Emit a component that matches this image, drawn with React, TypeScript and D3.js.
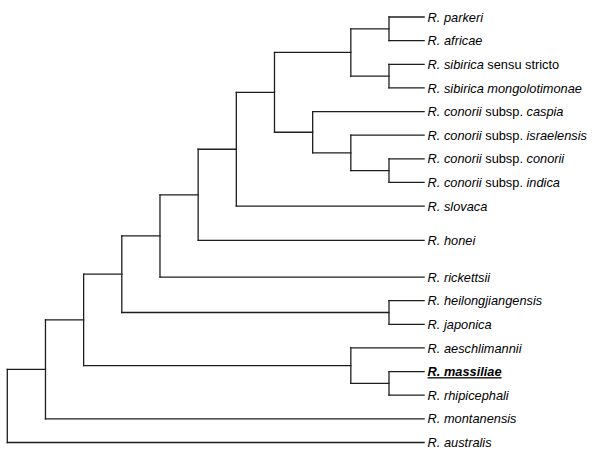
import React from "react";
import * as d3 from "d3";

// Leaves (top to bottom): id, label segments [text, style] (i = italic, n = normal, bi = bold italic underlined)
const leafIds = [
  "parkeri", "africae", "sibirica", "mongolotimonae", "caspia", "israelensis",
  "conorii", "indica", "slovaca", "honei", "rickettsii", "heilongjiangensis",
  "japonica", "aeschlimannii", "massiliae", "rhipicephali", "montanensis", "australis",
];
const leafLabels: [string, string][][] = [
  [["R. parkeri", "i"]],
  [["R. africae", "i"]],
  [["R. sibirica", "i"], [" sensu stricto", "n"]],
  [["R. sibirica mongolotimonae", "i"]],
  [["R. conorii", "i"], [" subsp. ", "n"], ["caspia", "i"]],
  [["R. conorii", "i"], [" subsp. ", "n"], ["israelensis", "i"]],
  [["R. conorii", "i"], [" subsp. ", "n"], ["conorii", "i"]],
  [["R. conorii", "i"], [" subsp. ", "n"], ["indica", "i"]],
  [["R. slovaca", "i"]],
  [["R. honei", "i"]],
  [["R. rickettsii", "i"]],
  [["R. heilongjiangensis", "i"]],
  [["R. japonica", "i"]],
  [["R. aeschlimannii", "i"]],
  [["R. massiliae", "bi"]],
  [["R. rhipicephali", "i"]],
  [["R. montanensis", "i"]],
  [["R. australis", "i"]],
];
// Vertical row slot of each leaf
const leafRows = [0, 1, 2, 3, 4, 5, 6, 7, 8, 9.45, 11, 12, 13, 14, 15, 16, 17, 18];
const leafDepth = 10.92;

// Internal clades: id, depth (node level), children
const clades: [string, number, string[]][] = [
  ["PA", 10, ["parkeri", "africae"]],
  ["SM", 10, ["sibirica", "mongolotimonae"]],
  ["PASM", 9, ["PA", "SM"]],
  ["CI", 10, ["conorii", "indica"]],
  ["ICI", 9, ["israelensis", "CI"]],
  ["CON", 8, ["caspia", "ICI"]],
  ["SFG", 7, ["PASM", "CON"]],
  ["SLO", 6, ["SFG", "slovaca"]],
  ["HON", 5, ["SLO", "honei"]],
  ["RIC", 4, ["HON", "rickettsii"]],
  ["HJ", 10, ["heilongjiangensis", "japonica"]],
  ["RHJ", 3, ["RIC", "HJ"]],
  ["MR", 10, ["massiliae", "rhipicephali"]],
  ["AMR", 9, ["aeschlimannii", "MR"]],
  ["G2", 2, ["RHJ", "AMR"]],
  ["G1", 1, ["G2", "montanensis"]],
  ["ROOT", 0, ["G1", "australis"]],
];

const W = 600;
const H = 457;

export default function App() {
  const x = d3.scaleLinear().domain([0, 10]).range([7.3, 389]);
  const y = d3.scaleLinear().domain([0, 18]).range([17, 442.5]);

  const pos: Record<string, { x: number; y: number }> = {};
  leafIds.forEach((id, i) => {
    pos[id] = { x: x(leafDepth), y: y(leafRows[i]) };
  });
  clades.forEach(([id, depth, kids]) => {
    const ys = kids.map((k) => pos[k].y);
    pos[id] = { x: x(depth), y: d3.mean(ys) as number };
  });

  const segs: { x1: number; y1: number; x2: number; y2: number }[] = [];
  clades.forEach(([id, , kids]) => {
    const p = pos[id];
    const ys = kids.map((k) => pos[k].y);
    segs.push({ x1: p.x, y1: d3.min(ys)!, x2: p.x, y2: d3.max(ys)! });
    kids.forEach((k) => {
      segs.push({ x1: p.x, y1: pos[k].y, x2: pos[k].x, y2: pos[k].y });
    });
  });

  return (
    <svg
      width={W}
      height={H}
      style={{ position: "absolute", left: 0, top: 0, background: "#fff" }}
      fontFamily="'Liberation Sans', Arial, sans-serif"
      fontSize={12.8}
    >
      <rect x={0} y={0} width={W} height={H} fill="#fff" />
      <g stroke="#1e1e1e" strokeWidth={1.3} strokeLinecap="square" fill="none">
        {segs.map((s, i) => (
          <line key={i} x1={s.x1} y1={s.y1} x2={s.x2} y2={s.y2} />
        ))}
      </g>
      <g fill="#000">
        {leafIds.map((id, i) => (
          <text key={id} x={pos[id].x + 3.5} y={pos[id].y} dy="0.36em">
            {leafLabels[i].map(([t, st], j) => (
              <tspan
                key={j}
                fontStyle={st === "n" ? "normal" : "italic"}
                fontWeight={st === "bi" ? "bold" : "normal"}
                style={st === "bi" ? { textDecoration: "underline" } : undefined}
              >
                {t}
              </tspan>
            ))}
          </text>
        ))}
      </g>
    </svg>
  );
}
